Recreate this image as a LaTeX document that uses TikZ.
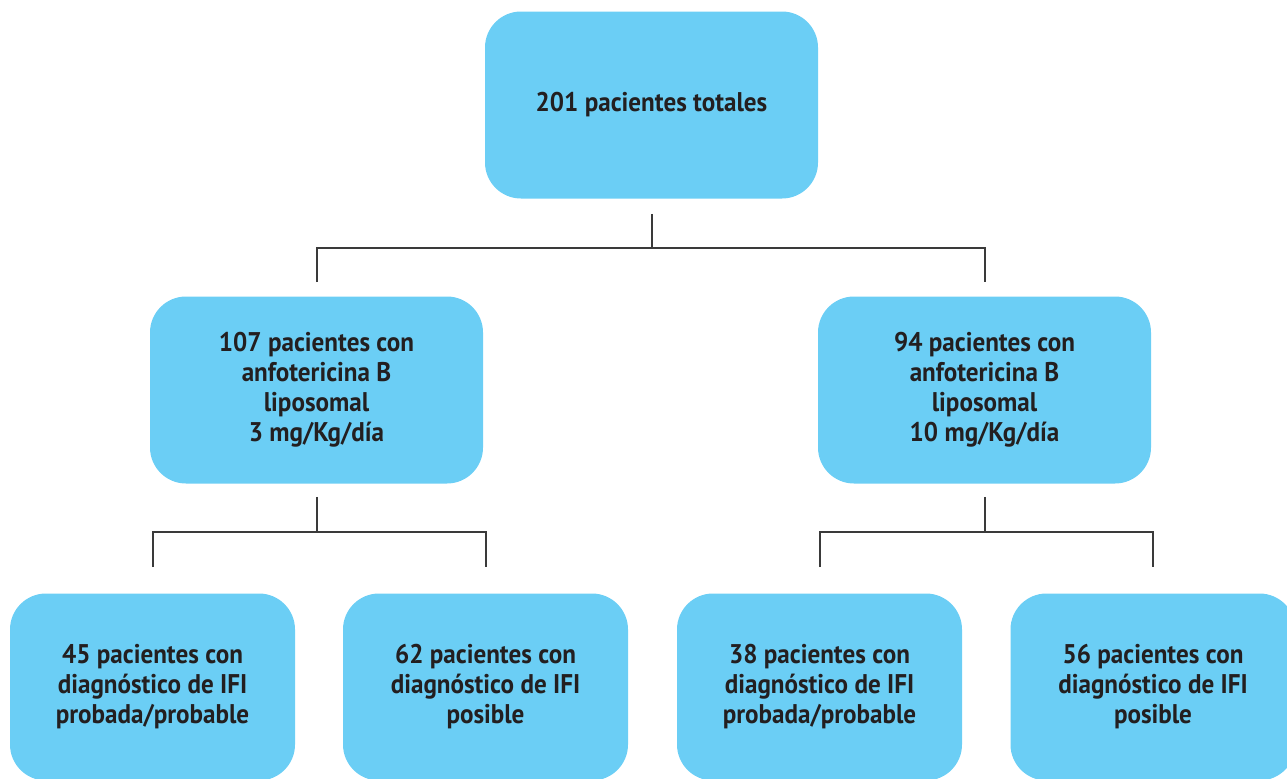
\documentclass[tikz,border=0pt]{standalone}
\usepackage{fontspec}
\setmainfont{PT Sans}[FakeStretch=0.93]
\usepackage{tikz}
\usetikzlibrary{positioning}
\definecolor{boxblue}{HTML}{6BCEF5}
\definecolor{txtdark}{HTML}{231F20}
\definecolor{linegray}{HTML}{3A3A3A}

\begin{document}
\begin{tikzpicture}[on grid,
  box/.style={fill=boxblue, rounded corners=18pt, minimum width=166.5pt,
    minimum height=93.5pt, align=center, text=txtdark,
    font=\fontsize{13.5}{15}\selectfont\bfseries},
  leaf/.style={box, minimum width=142.5pt},
  link/.style={draw=linegray, line width=1pt}]
  \useasboundingbox (0,0) rectangle (643.5pt,-389pt);

  \node[box] at (325.75pt,-52.5pt) (top){201 pacientes totales};
  \node[box] [below left=142.5pt and 167.5pt of top] (midL)
    {107 pacientes con\\anfotericina B\\liposomal\\3 mg/Kg/día};
  \node[box] [below right=142.5pt and 166.5pt of top] (midR)
    {94 pacientes con\\anfotericina B\\liposomal\\10 mg/Kg/día};

  \node[leaf] [below left=148.5pt and 82pt of midL] (leafA)
    {45 pacientes con\\diagnóstico de IFI\\probada/probable};
  \node[leaf] [below right=148.5pt and 84.5pt of midL] (leafB)
    {62 pacientes con\\diagnóstico de IFI\\posible};
  \node[leaf] [below left=148.5pt and 82.5pt of midR] (leafC)
    {38 pacientes con\\diagnóstico de IFI\\probada/probable};
  \node[leaf] [below right=148.5pt and 84.25pt of midR] (leafD)
    {56 pacientes con\\diagnóstico de IFI\\posible};

  % top level split
  \draw[link] ([yshift=-7.5pt]top.south) -- ++(0,-17pt) coordinate (j0);
  \draw[link] ([yshift=7pt]midL.north) |- (j0) -| ([yshift=7pt]midR.north);
  % second level, left
  \draw[link] ([yshift=-6.5pt]midL.south) -- ++(0,-17.5pt) coordinate (j1);
  \draw[link] ([yshift=13pt]leafA.north) |- (j1) -| ([yshift=13pt]leafB.north);
  % second level, right
  \draw[link] ([yshift=-6.5pt]midR.south) -- ++(0,-17.5pt) coordinate (j2);
  \draw[link] ([yshift=13pt]leafC.north) |- (j2) -| ([yshift=13pt]leafD.north);
\end{tikzpicture}
\end{document}
